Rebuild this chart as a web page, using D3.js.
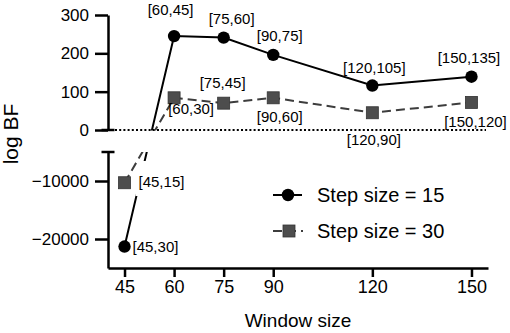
<!DOCTYPE html>
<html><head><meta charset="utf-8">
<script src="https://cdn.jsdelivr.net/npm/d3@7"></script>
<style>
html,body{margin:0;padding:0;background:#fff;}
svg{display:block;font-family:"Liberation Sans",Arial,Helvetica,sans-serif;}
</style></head>
<body>
<svg id="chart" width="510" height="333"></svg>
<script>
// ---- data ----
const windows = [45, 60, 75, 90, 120, 150];
const step15 = [-21300, 245, 241, 196, 116, 139];
const step30 = [-10300, 84, 70, 84, 45, 72];
const labels15 = ["[45,30]", "[60,45]", "[75,60]", "[90,75]", "[120,105]", "[150,135]"];
const labels30 = ["[45,15]", "[60,30]", "[75,45]", "[90,60]", "[120,90]", "[150,120]"];
const seriesNames = ["Step size = 15", "Step size = 30"];
const xTicks = [45, 60, 75, 90, 120, 150];
const yTopTicks = [0, 100, 200, 300];
const yBottomTicks = [-20000, -10000];

// ---- layout (label offsets in px, anchor) ----
const labelPos15 = [[8, 0, "start"], [-3.5, -26, "middle"], [8, -19, "middle"], [6.5, -19, "middle"], [2, -18, "middle"], [-2.5, -19, "middle"]];
const labelPos30 = [[14, -1, "start"], [17, 11, "middle"], [-1, -20, "middle"], [6.5, 19, "middle"], [1.5, 27, "middle"], [4, 19, "middle"]];

const svg = d3.select("#chart");
const x = d3.scaleLinear([40, 155], [108, 488]);
const yTop = d3.scaleLinear([0, 300], [130, 15]);
const yBot = d3.scaleLinear([-25000, -5000], [268, 152]);
const yAll = v => v >= 0 ? yTop(v) : yBot(v);

const defs = svg.append("defs");
const clip = defs.append("clipPath").attr("id", "clipPanels");
clip.append("rect").attr("x", 100).attr("y", 0).attr("width", 410).attr("height", yTop(0) + 0.5);
clip.append("rect").attr("x", 100).attr("y", yBot(-5000)).attr("width", 410).attr("height", yBot(-25000) - yBot(-5000));

const axisW = 2.5;
const fmt = d3.format("d");
function styleAxis(g, fs) {
  g.selectAll("path.domain").attr("stroke", "#000").attr("stroke-width", axisW);
  g.selectAll(".tick line").attr("stroke", "#000").attr("stroke-width", axisW);
  g.selectAll(".tick text").attr("fill", "#000").attr("font-size", fs).attr("font-family", "'Liberation Sans',Arial,sans-serif");
}

// top y axis
const gTop = svg.append("g").attr("transform", `translate(${x(40)},0)`)
  .call(d3.axisLeft(yTop).tickValues(yTopTicks).tickFormat(fmt).tickSize(13).tickPadding(6).tickSizeOuter(0));
styleAxis(gTop, 17);
// bottom y axis
const gBot = svg.append("g").attr("transform", `translate(${x(40)},0)`)
  .call(d3.axisLeft(yBot).tickValues(yBottomTicks).tickFormat(fmt).tickSize(13).tickPadding(6).tickSizeOuter(0));
styleAxis(gBot, 17);
// x axis
const gX = svg.append("g").attr("transform", `translate(0,${yBot(-25000)})`)
  .call(d3.axisBottom(x).tickValues(xTicks).tickFormat(fmt).tickSize(9).tickPadding(3).tickSizeOuter(0));
styleAxis(gX, 18);

// break caps
[yTop(0), yBot(-5000)].forEach(yy => {
  svg.append("line").attr("x1", x(40) - 6.5).attr("x2", x(40) + 6.5).attr("y1", yy).attr("y2", yy)
    .attr("stroke", "#000").attr("stroke-width", axisW);
});
// zero reference line
svg.append("line").attr("x1", x(40) + 7).attr("x2", 486).attr("y1", yTop(0)).attr("y2", yTop(0))
  .attr("stroke", "#000").attr("stroke-width", 2).attr("stroke-dasharray", "2,2.2");

// layers
const pts15 = windows.map((w, i) => [x(w), yAll(step15[i])]);
const pts30 = windows.map((w, i) => [x(w), yAll(step30[i])]);
const line = d3.line();
const gSolid = svg.append("g").attr("clip-path", "url(#clipPanels)");
const gBox = svg.append("g");
const gDash = svg.append("g").attr("clip-path", "url(#clipPanels)");
const gMarks = svg.append("g");
const gLabels = svg.append("g");

gSolid.append("path").attr("d", line(pts15)).attr("fill", "none").attr("stroke", "#000")
  .attr("stroke-width", 2);
gDash.append("path").attr("d", line(pts30)).attr("fill", "none").attr("stroke", "#3d3d3d")
  .attr("stroke-width", 2).attr("stroke-dasharray", "9,5");

// markers
gMarks.selectAll("rect").data(pts30).join("rect")
  .attr("x", d => d[0] - 6).attr("y", d => d[1] - 6).attr("width", 12).attr("height", 12)
  .attr("fill", "#4d4d4d").attr("stroke", "#333").attr("stroke-width", 0.8);
gMarks.selectAll("circle").data(pts15).join("circle")
  .attr("cx", d => d[0]).attr("cy", d => d[1]).attr("r", 6.2).attr("fill", "#000");

// labels
function drawLabels(pts, texts, pos, boxed) {
  pts.forEach((p, i) => {
    const t = gLabels.append("text").attr("x", p[0] + pos[i][0]).attr("y", p[1] + pos[i][1])
      .attr("dy", "0.35em").attr("text-anchor", pos[i][2]).attr("font-size", 15).attr("fill", "#000")
      .text(texts[i]);
    if (boxed && boxed[i]) {
      const b = t.node().getBBox();
      gBox.append("rect").attr("x", b.x - 3).attr("y", b.y - 12).attr("width", b.width + 4)
        .attr("height", b.height + 18).attr("fill", "#fff");
    }
  });
}
drawLabels(pts15, labels15, labelPos15, null);
drawLabels(pts30, labels30, labelPos30, [true, false, false, false, false, false]);

// legend
const leg = svg.append("g");
const legY = [195, 231];
leg.append("line").attr("x1", 273).attr("x2", 302).attr("y1", legY[0]).attr("y2", legY[0]).attr("stroke", "#000").attr("stroke-width", 2);
leg.append("circle").attr("cx", 288).attr("cy", legY[0]).attr("r", 6.2).attr("fill", "#000");
leg.append("line").attr("x1", 273).attr("x2", 303).attr("y1", legY[1]).attr("y2", legY[1]).attr("stroke", "#3d3d3d").attr("stroke-width", 2).attr("stroke-dasharray", "9,5");
leg.append("rect").attr("x", 283).attr("y", legY[1] - 6).attr("width", 12).attr("height", 12).attr("fill", "#4d4d4d").attr("stroke", "#333").attr("stroke-width", 0.8);
seriesNames.forEach((n, i) => {
  leg.append("text").attr("x", 317).attr("y", legY[i] + 7.2).attr("font-size", 20).attr("fill", "#000").text(n);
});

// axis titles
svg.append("text").attr("x", (x(40) + x(155)) / 2).attr("y", 326.5).attr("text-anchor", "middle")
  .attr("font-size", 19).attr("fill", "#000").text("Window size");
svg.append("text").attr("transform", "translate(18,134) rotate(-90)").attr("text-anchor", "middle")
  .attr("font-size", 21).attr("fill", "#000").text("log BF");
</script>
</body></html>
